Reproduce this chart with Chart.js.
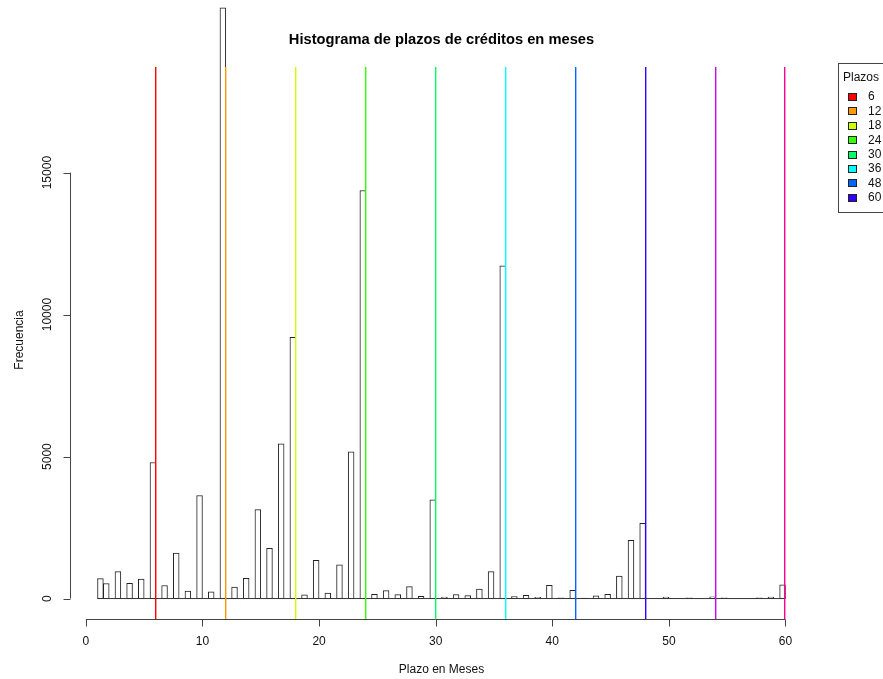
<!DOCTYPE html>
<html>
<head>
<meta charset="utf-8">
<title>Histograma de plazos de créditos en meses</title>
<script src="https://cdn.jsdelivr.net/npm/chart.js@4.4.1/dist/chart.umd.min.js"></script>
<style>
  html, body { margin: 0; padding: 0; background: #fff; }
</style>
</head>
<body>
<canvas id="histChart" width="883" height="679"></canvas>
<script>
// plazo de cada crédito (meses) y cuántos créditos tienen ese plazo
const plazos = [1, 2, 3, 4, 5, 6, 7, 8, 9, 10, 11, 12, 13, 14, 15, 16, 17, 18, 19, 20,
  21, 22, 23, 24, 25, 26, 27, 28, 29, 30, 31, 32, 33, 34, 35, 36, 37, 38, 39, 40,
  41, 42, 43, 44, 45, 46, 47, 48, 49, 50, 51, 52, 53, 54, 55, 56, 57, 58, 59, 60];
const frecuencias = [700, 530, 950, 540, 690, 4790, 460, 1600, 260, 3630,
  235, 20800, 400, 710, 3130, 1770, 5450, 9200, 130, 1350,
  190, 1190, 5170, 14370, 150, 280, 140, 420, 80, 3480,
  50, 140, 105, 330, 950, 11720, 70, 115, 45, 470,
  25, 290, 20, 95, 150, 790, 2050, 2650, 0, 55,
  0, 25, 0, 60, 25, 0, 0, 25, 50, 480];

// líneas verticales en los plazos múltiplos de 6 (rainbow(10))
const marcas = [6, 12, 18, 24, 30, 36, 42, 48, 54, 60];
const coloresMarcas = ['#FF0000', '#FF9900', '#CCFF00', '#33FF00', '#00FF66',
  '#00FFFF', '#0066FF', '#3300FF', '#CC00FF', '#FF0099'];
const leyendaEtiquetas = ['6', '12', '18', '24', '30', '36', '48', '60'];

const ticksX = [0, 10, 20, 30, 40, 50, 60];
const ticksY = [0, 5000, 10000, 15000];
const xlim = [1, 60];
const ylim = [0, 18000];

const FONT = "'Liberation Sans', Arial, Helvetica, sans-serif";

// rango del gráfico como en R: 4% extra a cada lado
const ext = (lim) => {
  const d = (lim[1] - lim[0]) * 0.04;
  return [lim[0] - d, lim[1] + d];
};
const xr = ext(xlim);
const yr = ext(ylim);

// clases de ancho 0.5: el mes n cae en (n-0.5, n], el primero en [1, 1.5]
const barras = plazos.map((p, i) => ({
  x: p === xlim[0] ? p + 0.25 : p - 0.25,
  y: frecuencias[i]
}));

// abline(v = marcas) por encima de las barras
const lineasV = {
  id: 'lineasV',
  afterDatasetsDraw(chart) {
    const ctx = chart.ctx;
    const xs = chart.scales.x;
    const ys = chart.scales.y;
    const top = Math.round(ys.getPixelForValue(yr[1]));
    const bottom = Math.round(ys.getPixelForValue(yr[0]));
    ctx.save();
    marcas.forEach((m, i) => {
      const px = Math.round(xs.getPixelForValue(m)) - 1;
      ctx.fillStyle = coloresMarcas[i];
      ctx.fillRect(px, top, 1.4, bottom - top);
    });
    ctx.restore();
  }
};

const ejesR = {
  id: 'ejesR',
  afterDraw(chart) {
    const ctx = chart.ctx;
    const xs = chart.scales.x;
    const ys = chart.scales.y;
    const area = chart.chartArea;
    ctx.save();
    ctx.strokeStyle = '#444';
    ctx.fillStyle = '#111';
    ctx.lineWidth = 1;

    // eje x
    const yb = Math.round(area.bottom) + 0.5;
    ctx.beginPath();
    ctx.moveTo(xs.getPixelForValue(ticksX[0]), yb);
    ctx.lineTo(xs.getPixelForValue(ticksX[ticksX.length - 1]), yb);
    ticksX.forEach(t => {
      const px = Math.round(xs.getPixelForValue(t)) + 0.5;
      ctx.moveTo(px, yb);
      ctx.lineTo(px, yb + 7);
    });
    ctx.stroke();
    ctx.font = '12px ' + FONT;
    ctx.textAlign = 'center';
    ctx.textBaseline = 'middle';
    ticksX.forEach(t => ctx.fillText(String(t), xs.getPixelForValue(t), yb + 22));

    // eje y
    const xl = Math.round(area.left) + 0.5;
    ctx.beginPath();
    ctx.moveTo(xl, ys.getPixelForValue(ticksY[0]));
    ctx.lineTo(xl, ys.getPixelForValue(ticksY[ticksY.length - 1]));
    ticksY.forEach(t => {
      const py = Math.round(ys.getPixelForValue(t)) + 0.5;
      ctx.moveTo(xl, py);
      ctx.lineTo(xl - 7, py);
    });
    ctx.stroke();
    ticksY.forEach(t => {
      ctx.save();
      ctx.translate(xl - 23, ys.getPixelForValue(t));
      ctx.rotate(-Math.PI / 2);
      ctx.fillText(String(t), 0, 0);
      ctx.restore();
    });

    // títulos
    const cx = (area.left + area.right) / 2;
    ctx.fillText('Plazo en Meses', cx, 670);
    ctx.save();
    ctx.translate(20, (area.top + area.bottom) / 2 - 3);
    ctx.rotate(-Math.PI / 2);
    ctx.fillText('Frecuencia', 0, 0);
    ctx.restore();
    ctx.fillStyle = '#000';
    ctx.font = 'bold 14.7px ' + FONT;
    ctx.fillText('Histograma de plazos de créditos en meses', cx, 40);

    // leyenda
    ctx.strokeStyle = '#444';
    ctx.strokeRect(838.5, 63.5, 120, 149);
    ctx.font = '12px ' + FONT;
    ctx.textAlign = 'left';
    ctx.fillStyle = '#111';
    ctx.fillText('Plazos', 843, 78);
    leyendaEtiquetas.forEach((lab, i) => {
      const yc = 97 + i * 14.4;
      ctx.fillStyle = coloresMarcas[i];
      ctx.fillRect(848.5, Math.round(yc - 4) + 0.5, 8, 7);
      ctx.strokeStyle = '#222';
      ctx.strokeRect(848.5, Math.round(yc - 4) + 0.5, 8, 7);
      ctx.fillStyle = '#111';
      ctx.fillText(lab, 868, yc);
    });
    ctx.restore();
  }
};

new Chart(document.getElementById('histChart').getContext('2d'), {
  type: 'bar',
  data: {
    datasets: [
      {
        type: 'bar',
        data: barras,
        backgroundColor: '#ffffff',
        borderColor: '#222',
        borderWidth: 1,
        borderSkipped: false,
        categoryPercentage: 1,
        barPercentage: 1,
        clip: false,
        order: 2
      },
      {
        // línea base de las clases vacías
        type: 'line',
        data: [{ x: xlim[0], y: 0 }, { x: xlim[1], y: 0 }],
        borderColor: '#333',
        backgroundColor: '#333',
        borderWidth: 1,
        pointRadius: 0,
        order: 1
      }
    ]
  },
  options: {
    responsive: false,
    animation: false,
    layout: { padding: { left: 70, right: 70, top: 67, bottom: 60 } },
    scales: {
      x: { type: 'linear', min: xr[0], max: xr[1], offset: false, display: false, ticks: { stepSize: 10 } },
      y: { type: 'linear', min: yr[0], max: yr[1], display: false }
    },
    plugins: {
      legend: { display: false },
      tooltip: { enabled: false }
    }
  },
  plugins: [lineasV, ejesR]
});
</script>
</body>
</html>
